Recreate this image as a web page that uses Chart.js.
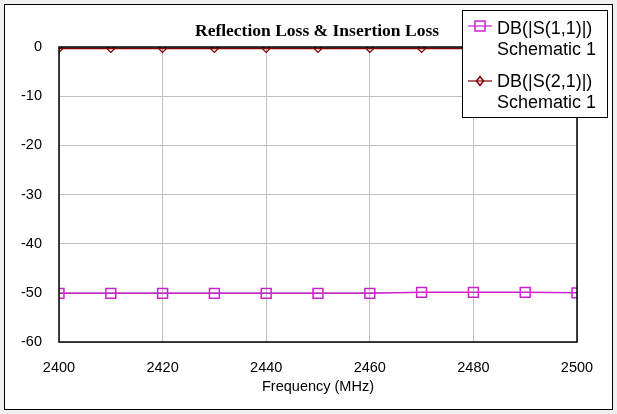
<!DOCTYPE html>
<html>
<head>
<meta charset="utf-8">
<script src="https://cdn.jsdelivr.net/npm/chart.js@4.4.0/dist/chart.umd.min.js"></script>
<style>
  html, body { margin: 0; padding: 0; background: #f0f0f0; }
  #wrap { width: 617px; height: 414px; position: relative; }
</style>
</head>
<body>
<div id="wrap"><canvas id="chartRL" width="617" height="414"></canvas></div>
<script>
// frequency points (MHz)
const freqs = [2400, 2410, 2420, 2430, 2440, 2450, 2460, 2470, 2480, 2490, 2500];
// DB(|S(1,1)|) - reflection loss
const s11 = [-50.1, -50.1, -50.1, -50.1, -50.1, -50.1, -50.1, -49.9, -49.9, -49.9, -50.0];
// DB(|S(2,1)|) - insertion loss
const s21 = [-0.3, -0.3, -0.3, -0.3, -0.3, -0.3, -0.3, -0.3, -0.3, -0.3, -0.3];

const xTicks = [2400, 2420, 2440, 2460, 2480, 2500];
const yTicks = [0, -10, -20, -30, -40, -50, -60];

const titleText = 'Reflection Loss & Insertion Loss';
const legendNames = ['DB(|S(1,1)|)', 'DB(|S(2,1)|)'];
const legendSub = 'Schematic 1';

const col11 = '#cc22cc';
const col21 = '#800000';

const ctx = document.getElementById('chartRL');

function drawMarker(c, style, x, y, color) {
    c.save();
    c.strokeStyle = color;
    c.lineWidth = 1.5;
    c.beginPath();
    if (style === 'rect') {
        c.rect(x - 5, y - 5, 10, 10);
    } else {
        c.moveTo(x, y - 4.5);
        c.lineTo(x + 3.5, y);
        c.lineTo(x, y + 4.5);
        c.lineTo(x - 3.5, y);
        c.closePath();
    }
    c.stroke();
    c.restore();
}

// white frame + title + boxed legend
const framePlugin = {
    id: 'frame',
    beforeDraw(chart) {
        const c = chart.ctx;
        c.save();
        c.fillStyle = '#f0f0f0';
        c.fillRect(0, 0, 617, 414);
        c.fillStyle = '#ffffff';
        c.fillRect(4.5, 4.5, 608, 405);
        c.strokeStyle = '#000';
        c.lineWidth = 1;
        c.strokeRect(4.5, 4.5, 608, 405);
        c.restore();
    },
    afterDraw(chart) {
        const c = chart.ctx;
        const a = chart.chartArea;
        c.save();
        // plot border
        c.strokeStyle = '#000';
        c.lineWidth = 1.5;
        c.strokeRect(a.left, a.top, a.right - a.left, a.bottom - a.top);

        // title
        c.fillStyle = '#000';
        c.font = 'bold 17.5px "Liberation Serif", "Times New Roman", serif';
        c.textAlign = 'center';
        c.textBaseline = 'middle';
        c.fillText(titleText, 317, 31);

        // legend box
        c.fillStyle = '#fff';
        c.fillRect(462.5, 10.5, 145, 107);
        c.strokeStyle = '#000';
        c.lineWidth = 1;
        c.strokeRect(462.5, 10.5, 145, 107);

        chart.data.datasets.forEach((ds, i) => {
            const y = 26 + i * 55;
            const ty = 29 + i * 53;
            c.strokeStyle = ds.borderColor;
            c.lineWidth = 1.2;
            c.beginPath();
            c.moveTo(468, y);
            c.lineTo(492, y);
            c.stroke();
            drawMarker(c, ds.pointStyle, 480, y, ds.borderColor);
            c.fillStyle = '#000';
            c.font = '18px "Liberation Sans", Arial, sans-serif';
            c.textAlign = 'left';
            c.textBaseline = 'middle';
            c.fillText(legendNames[i], 497, ty);
            c.fillText(legendSub, 497, ty + 21);
        });
        c.restore();
    }
};

new Chart(ctx, {
    type: 'line',
    data: {
        datasets: [{
            label: legendNames[0] + ' ' + legendSub,
            data: freqs.map((f, i) => ({ x: f, y: s11[i] })),
            borderColor: col11,
            backgroundColor: 'transparent',
            borderWidth: 1.5,
            pointStyle: 'rect',
            pointRadius: 7,
            pointBorderWidth: 1.5,
            pointBackgroundColor: 'transparent',
            tension: 0
        }, {
            label: legendNames[1] + ' ' + legendSub,
            data: freqs.map((f, i) => ({ x: f, y: s21[i] })),
            borderColor: col21,
            backgroundColor: 'transparent',
            borderWidth: 1.5,
            pointStyle: 'rectRot',
            pointRadius: 4,
            pointBorderWidth: 1.2,
            pointBackgroundColor: 'transparent',
            tension: 0
        }]
    },
    options: {
        responsive: false,
        animation: false,
        devicePixelRatio: 1,
        layout: { padding: { left: 0, top: 47, right: 40, bottom: 0 } },
        plugins: {
            legend: { display: false },
            title: { display: false },
            tooltip: { enabled: false }
        },
        scales: {
            x: {
                type: 'linear',
                min: 2400,
                max: 2500,
                afterBuildTicks: s => { s.ticks = xTicks.map(v => ({ value: v })); },
                afterFit: s => { s.height = 72; },
                grid: { color: '#c0c0c0', lineWidth: 1, drawTicks: false },
                border: { display: false },
                ticks: {
                    color: '#000',
                    padding: 17,
                    maxRotation: 0,
                    callback: v => String(v),
                    font: { family: '"Liberation Sans", Arial, sans-serif', size: 14.5 }
                },
                title: {
                    display: true,
                    text: 'Frequency (MHz)',
                    color: '#000',
                    padding: { top: 4, bottom: 18 },
                    font: { family: '"Liberation Sans", Arial, sans-serif', size: 14.5 }
                }
            },
            y: {
                min: -60,
                max: 0,
                afterBuildTicks: s => { s.ticks = yTicks.map(v => ({ value: v })); },
                afterFit: s => { s.width = 59; },
                grid: { color: '#c0c0c0', lineWidth: 1, drawTicks: false },
                border: { display: false },
                ticks: {
                    color: '#000',
                    padding: 17,
                    callback: v => String(v),
                    font: { family: '"Liberation Sans", Arial, sans-serif', size: 14.5 }
                }
            }
        }
    },
    plugins: [framePlugin]
});
</script>
</body>
</html>
